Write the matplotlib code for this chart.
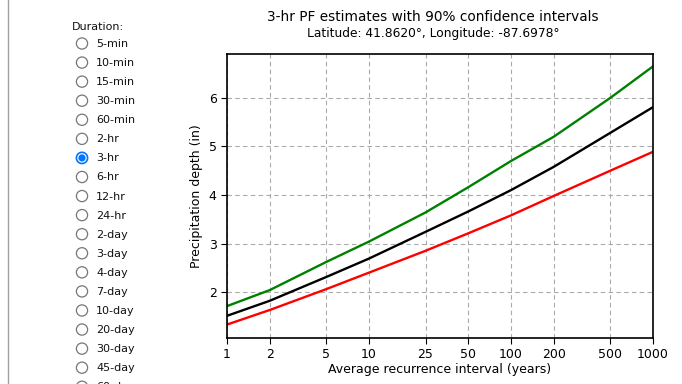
import matplotlib
matplotlib.use("Agg")
import matplotlib.pyplot as plt
from matplotlib.patches import Circle

# ---- data ----
ari_years = [1, 2, 5, 10, 25, 50, 100, 200, 500, 1000]
pf_estimate = [1.51, 1.82, 2.31, 2.69, 3.24, 3.66, 4.10, 4.58, 5.28, 5.81]
pf_upper = [1.71, 2.04, 2.62, 3.04, 3.64, 4.16, 4.70, 5.20, 6.00, 6.65]
pf_lower = [1.33, 1.63, 2.06, 2.40, 2.85, 3.21, 3.58, 3.98, 4.50, 4.89]
xtick_labels = ["1", "2", "5", "10", "25", "50", "100", "200", "500", "1000"]
durations = ["5-min", "10-min", "15-min", "30-min", "60-min", "2-hr", "3-hr",
             "6-hr", "12-hr", "24-hr", "2-day", "3-day", "4-day", "7-day",
             "10-day", "20-day", "30-day", "45-day", "60-day"]
selected = "3-hr"

W, H = 682, 384
fig = plt.figure(figsize=(W / 100, H / 100), dpi=100)

# ---- left panel (radio list) in pixel coordinates ----
pan = fig.add_axes([0, 0, 1, 1])
pan.set_xlim(0, W)
pan.set_ylim(H, 0)
pan.axis("off")
pan.plot([7.5, 7.5], [0, H], color="#a0a0a0", lw=1)
pan.text(72, 26.5, "Duration:", fontsize=8, va="center", ha="left",
         family="DejaVu Sans", color="#111111")
for i, d in enumerate(durations):
    y = 43.5 + i * 19.07
    if d == selected:
        pan.add_patch(Circle((82, y), 5.6, facecolor="white", edgecolor="#0075ff", lw=1.2))
        pan.add_patch(Circle((82, y), 3.6, facecolor="#0075ff", edgecolor="none"))
    else:
        pan.add_patch(Circle((82, y), 5.6, facecolor="white", edgecolor="#767676", lw=0.9))
    pan.text(96, y + 0.5, d, fontsize=8, va="center", ha="left",
             family="DejaVu Sans", color="#111111", clip_on=False)

# ---- chart ----
ax = fig.add_axes([227 / W, 1 - 338 / H, (653 - 227) / W, (338 - 54) / H])
ax.plot(ari_years, pf_upper, color="green", lw=1.7)
ax.plot(ari_years, pf_estimate, color="black", lw=1.7)
ax.plot(ari_years, pf_lower, color="red", lw=1.7)
ax.set_xscale("log")
ax.set_xlim(1, 1000)
ax.set_ylim(1.053, 6.905)
ax.set_xticks(ari_years)
ax.set_xticklabels(xtick_labels)
ax.minorticks_off()
ax.set_yticks([2, 3, 4, 5, 6])
ax.tick_params(labelsize=9, length=4)
ax.grid(True, color="#aaaaaa", linestyle=(0, (4, 3)), lw=0.8)
ax.set_axisbelow(True)
for s in ax.spines.values():
    s.set_linewidth(1.2)
ax.set_xlabel("Average recurrence interval (years)", fontsize=9, labelpad=1)
ax.set_ylabel("Precipitation depth (in)", fontsize=9)
fig.text(433 / W, 1 - 17 / H, "3-hr PF estimates with 90% confidence intervals",
         ha="center", va="center", fontsize=9.8)
fig.text(433 / W, 1 - 34 / H, "Latitude: 41.8620°, Longitude: -87.6978°",
         ha="center", va="center", fontsize=8.8)

fig.savefig("out.png", dpi=100)
